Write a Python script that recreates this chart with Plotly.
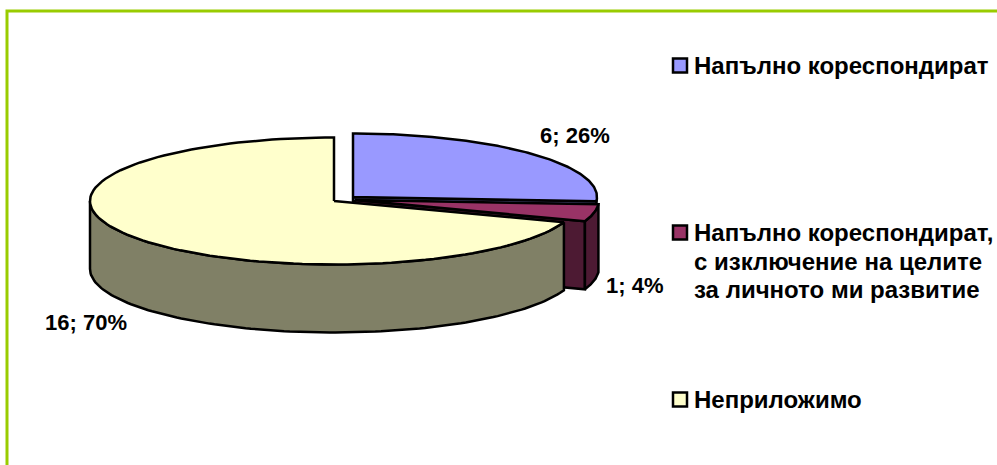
import numpy as np
import plotly.graph_objects as go

categories = ["Напълно кореспондират", "Напълно кореспондират,\nс изключение на целите\nза личното ми развитие", "Неприложимо"]
values = [6, 1, 16]
point_labels = ["6; 26%", "1; 4%", "16; 70%"]
top_colors = ["#9999FF", "#993366", "#FFFFCC"]
wall_colors = ["#4D4D80", "#4D1A33", "#808066"]

W, H = 997, 465
RX, RY, DEPTH = 244, 63.5, 68
CENTERS = [(353, 197), (355, 200), (334, 201)]
LABEL_POS = [(575, 135), (634, 285), (86, 322)]
LEGEND_X, TEXT_X = 680, 692
LEGEND_Y = [65.5, 232.5, 399.5]
LINE_GAP = 28.5
FONT = "Liberation Sans"
LABEL_SIZE, LEGEND_SIZE = 22, 24
OUT = dict(color="#000000", width=2.5)

total = sum(values)
edges = np.concatenate([[0], np.cumsum(values)]) / total * 2 * np.pi


def rim(c, a, b, dz=0.0, n=120):
    t = np.linspace(a, b, n)
    return c[0] + RX * np.sin(t), c[1] - RY * np.cos(t) + dz


fig = go.Figure()


def poly(xs, ys, color):
    fig.add_trace(go.Scatter(x=list(xs), y=list(ys), mode="lines", fill="toself",
                             fillcolor=color, line=OUT, hoverinfo="skip", showlegend=False))


def radial_face(c, a, color):
    ex, ey = rim(c, a, a, n=1)
    poly([c[0], ex[0], ex[0], c[0], c[0]],
         [c[1], ey[0], ey[0] + DEPTH, c[1] + DEPTH, c[1]], color)


def outer_wall(c, a, b, color):
    x1, y1 = rim(c, a, b)
    x2, y2 = rim(c, a, b, DEPTH)
    poly(np.r_[x1, x2[::-1], x1[0]], np.r_[y1, y2[::-1], y1[0]], color)


def top(c, a, b, color):
    x, y = rim(c, a, b)
    poly(np.r_[c[0], x, c[0]], np.r_[c[1], y, c[1]], color)


# back to front: blue, maroon, yellow
radial_face(CENTERS[0], edges[1], wall_colors[0])
top(CENTERS[0], edges[0], edges[1], top_colors[0])

radial_face(CENTERS[1], edges[2], wall_colors[1])
outer_wall(CENTERS[1], edges[1], edges[2], wall_colors[1])
top(CENTERS[1], edges[1], edges[2], top_colors[1])

outer_wall(CENTERS[2], edges[2], 3 * np.pi / 2, wall_colors[2])
top(CENTERS[2], edges[2], edges[3], top_colors[2])

# legend keys
fig.add_trace(go.Scatter(x=[LEGEND_X] * 3, y=LEGEND_Y, mode="markers",
                         marker=dict(symbol="square", size=14, color=top_colors,
                                     line=dict(color="#000000", width=2.5)),
                         hoverinfo="skip", showlegend=False))

for (lx, ly), t in zip(LABEL_POS, point_labels):
    fig.add_annotation(x=lx, y=ly, text=f"<b>{t}</b>", showarrow=False, xanchor="center", yanchor="middle",
                       font=dict(family=FONT, size=LABEL_SIZE, color="#000000"))

for ky, cat in zip(LEGEND_Y, categories):
    for i, line in enumerate(cat.split("\n")):
        fig.add_annotation(x=TEXT_X, y=ky + i * LINE_GAP, text=f"<b>{line}</b>", showarrow=False,
                           xanchor="left", yanchor="middle",
                           font=dict(family=FONT, size=LEGEND_SIZE, color="#000000"))

# chart frame, running off the right and bottom of the picture
fig.add_shape(type="rect", x0=7, y0=11, x1=W + 20, y1=H + 20, line=dict(color="#99CC00", width=3),
              fillcolor="rgba(0,0,0,0)", layer="below")

fig.update_xaxes(range=[0, W], visible=False, fixedrange=True)
fig.update_yaxes(range=[H, 0], visible=False, fixedrange=True)
fig.update_layout(width=W, height=H, margin=dict(l=0, r=0, t=0, b=0),
                  paper_bgcolor="#FFFFFF", plot_bgcolor="#FFFFFF", showlegend=False)
fig.write_html("out.html", config=dict(displayModeBar=False),
               post_script="document.body.style.margin='0';document.body.style.overflow='hidden';")
